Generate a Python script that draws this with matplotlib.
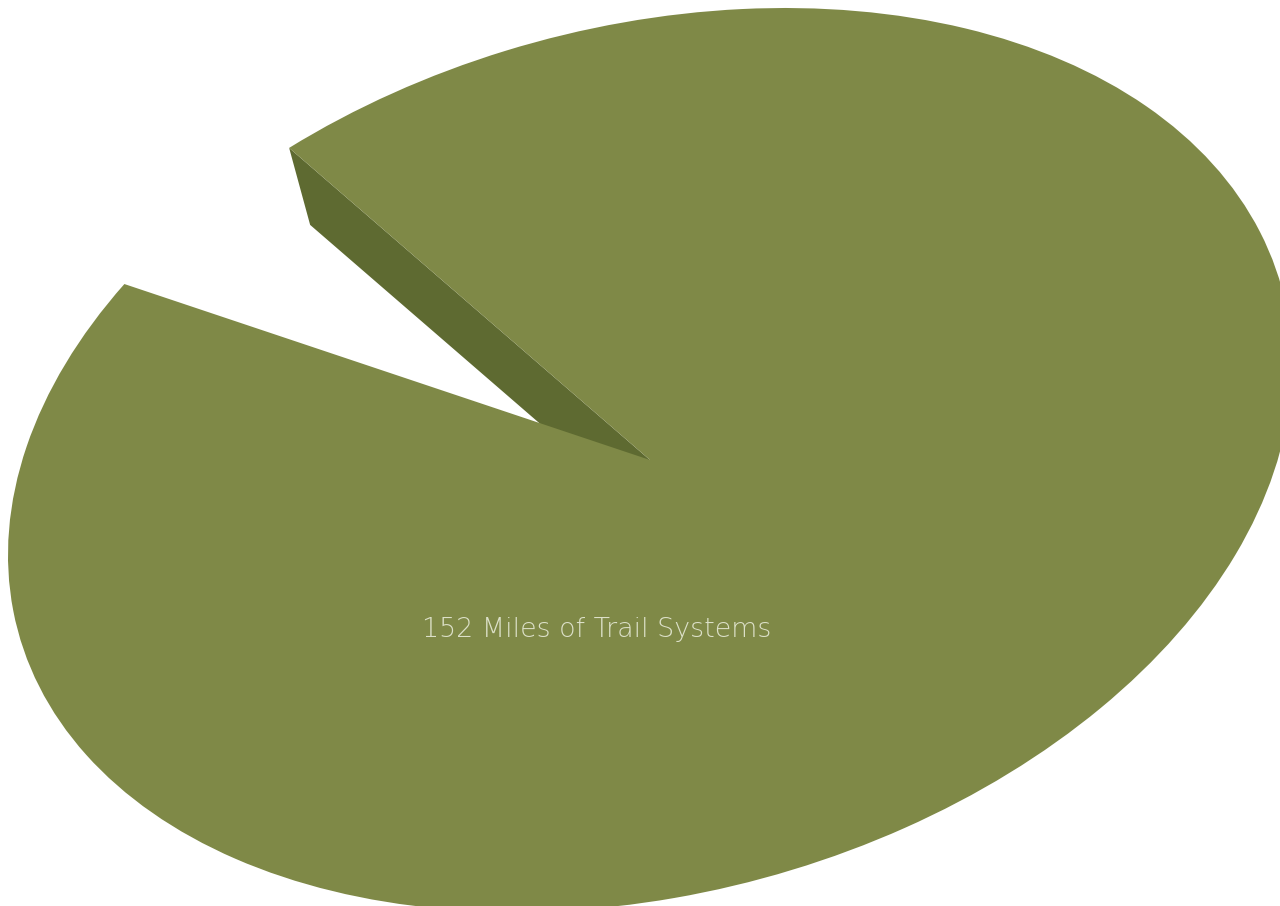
import matplotlib.pyplot as plt
from matplotlib.patches import Polygon
from matplotlib.transforms import Affine2D
import numpy as np

# ==========================================
# DATA
# ==========================================
labels = ['152 Miles of Trail Systems', '']
miles = [152, 9.3]          # second slice is the empty gap
start_angle = 235.8

OLIVE = '#7F8947'
OLIVE_DARK = '#5E6A31'
TEXT = '#DCE0C8'

# ==========================================
# FIGURE
# ==========================================
fig = plt.figure(figsize=(12.8, 9.06), dpi=100)
ax = fig.add_axes([0, 0, 1, 1])

wedges, _ = ax.pie(miles, startangle=start_angle, colors=[OLIVE, 'none'],
                   radius=1, center=(0, 0), wedgeprops={'linewidth': 0})

# pie -> tilted ellipse (3D look)
tilt = Affine2D().from_values(642, -95, 0, 441.9, 650, 460)
for w in wedges:
    w.set_transform(tilt + ax.transData)
    w.set_zorder(3)

# side wall of the big slice along its first edge
th = np.deg2rad(wedges[0].theta1)
cx, cy = tilt.transform((0, 0))
rx, ry = tilt.transform((np.cos(th), np.sin(th)))
dx, dy = 21, 77
wall = Polygon([(cx, cy), (rx, ry), (rx + dx, ry + dy), (cx + dx, cy + dy)],
               closed=True, facecolor=OLIVE_DARK, edgecolor='none', zorder=2)
ax.add_patch(wall)

ax.text(597, 629, labels[0], color=TEXT, fontsize=19.4, family='DejaVu Sans',
        fontweight='light', ha='center', va='center', zorder=4)

ax.set_aspect('auto')
ax.set_xlim(0, 1280)
ax.set_ylim(906, 0)
ax.axis('off')

fig.savefig('out.png', dpi=100)
